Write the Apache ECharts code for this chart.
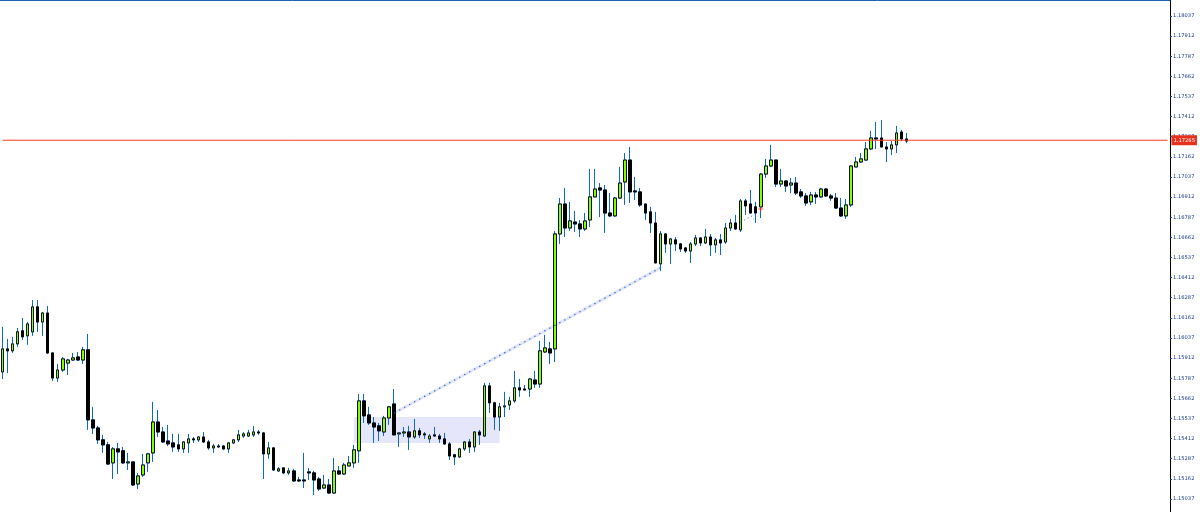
<!DOCTYPE html>
<html>
<head>
<meta charset="utf-8">
<script src="https://cdn.jsdelivr.net/npm/echarts@6/dist/echarts.min.js"></script>
<style>html,body{margin:0;padding:0;background:#fff}#c{width:1200px;height:512px}</style>
</head>
<body>
<div id="c"></div>
<script>
const opens = [1.15826,1.15969,1.15957,1.16000,1.16081,1.16050,1.16075,1.16230,1.16136,1.16192,
1.15944,1.15788,1.15838,1.15881,1.15900,1.15919,1.15900,1.15963,1.15528,1.15478,
1.15404,1.15373,1.15261,1.15348,1.15336,1.15261,1.15267,1.15130,1.15186,1.15261,
1.15323,1.15515,1.15453,1.15397,1.15385,1.15373,1.15348,1.15385,1.15410,1.15404,
1.15422,1.15391,1.15354,1.15366,1.15366,1.15348,1.15385,1.15404,1.15428,1.15428,
1.15435,1.15453,1.15447,1.15317,1.15354,1.15211,1.15230,1.15199,1.15211,1.15155,
1.15155,1.15205,1.15199,1.15161,1.15105,1.15124,1.15074,1.15211,1.15192,1.15242,
1.15261,1.15336,1.15646,1.15559,1.15509,1.15491,1.15453,1.15540,1.15627,1.15441,
1.15447,1.15453,1.15422,1.15460,1.15441,1.15410,1.15435,1.15428,1.15410,1.15379,
1.15311,1.15298,1.15348,1.15391,1.15360,1.15453,1.15428,1.15739,1.15634,1.15546,
1.15609,1.15621,1.15646,1.15727,1.15720,1.15720,1.15776,1.15751,1.15950,1.15969,
1.15969,1.16683,1.16869,1.16720,1.16757,1.16745,1.16714,1.16770,1.16913,1.16969,
1.16956,1.16813,1.16795,1.16906,1.17006,1.17142,1.16950,1.16944,1.16869,1.16820,
1.16751,1.16497,1.16683,1.16621,1.16646,1.16621,1.16596,1.16577,1.16621,1.16658,
1.16627,1.16664,1.16615,1.16646,1.16633,1.16720,1.16751,1.16708,1.16888,1.16869,
1.16851,1.16851,1.17055,1.17105,1.17142,1.16993,1.17012,1.16987,1.16999,1.16944,
1.16919,1.16882,1.16925,1.16913,1.16962,1.16919,1.16906,1.16844,1.16795,1.16863,
1.17099,1.17130,1.17142,1.17211,1.17279,1.17279,1.17223,1.17211,1.17236,1.17316,
1.17273];
const closes = [1.15969,1.15957,1.16000,1.16075,1.16044,1.16124,1.16230,1.16136,1.16192,1.15944,
1.15788,1.15838,1.15907,1.15900,1.15913,1.15900,1.15963,1.15528,1.15478,1.15404,
1.15373,1.15254,1.15348,1.15329,1.15261,1.15267,1.15124,1.15180,1.15248,1.15317,
1.15515,1.15453,1.15391,1.15379,1.15360,1.15348,1.15391,1.15410,1.15404,1.15422,
1.15391,1.15354,1.15366,1.15360,1.15348,1.15385,1.15404,1.15435,1.15441,1.15447,
1.15453,1.15447,1.15317,1.15354,1.15217,1.15224,1.15199,1.15211,1.15149,1.15149,
1.15149,1.15199,1.15155,1.15099,1.15124,1.15074,1.15211,1.15192,1.15248,1.15261,
1.15342,1.15646,1.15553,1.15509,1.15484,1.15460,1.15540,1.15609,1.15435,1.15447,
1.15453,1.15422,1.15460,1.15435,1.15435,1.15428,1.15428,1.15410,1.15379,1.15304,
1.15298,1.15348,1.15391,1.15360,1.15453,1.15435,1.15739,1.15634,1.15546,1.15609,
1.15615,1.15646,1.15727,1.15714,1.15714,1.15782,1.15751,1.15957,1.15975,1.15944,
1.16683,1.16869,1.16720,1.16764,1.16745,1.16714,1.16764,1.16913,1.16962,1.16956,
1.16813,1.16795,1.16906,1.16999,1.17142,1.16944,1.16944,1.16863,1.16813,1.16751,
1.16503,1.16683,1.16621,1.16652,1.16621,1.16590,1.16577,1.16621,1.16658,1.16627,
1.16664,1.16615,1.16646,1.16627,1.16720,1.16751,1.16714,1.16888,1.16857,1.16813,
1.16813,1.17055,1.17105,1.17142,1.16993,1.17012,1.16981,1.16999,1.16937,1.16919,
1.16875,1.16925,1.16913,1.16962,1.16919,1.16906,1.16844,1.16795,1.16863,1.17105,
1.17130,1.17149,1.17211,1.17279,1.17273,1.17223,1.17211,1.17236,1.17310,1.17273,
1.17260];
const lows = [1.15782,1.15819,1.15944,1.15982,1.16025,1.15994,1.16050,1.16075,1.16050,1.15938,
1.15770,1.15764,1.15826,1.15807,1.15894,1.15894,1.15875,1.15466,1.15441,1.15379,
1.15323,1.15248,1.15161,1.15192,1.15254,1.15217,1.15118,1.15099,1.15174,1.15205,
1.15267,1.15422,1.15385,1.15366,1.15329,1.15329,1.15323,1.15323,1.15385,1.15391,
1.15385,1.15342,1.15323,1.15354,1.15342,1.15323,1.15379,1.15391,1.15416,1.15422,
1.15422,1.15435,1.15161,1.15286,1.15211,1.15205,1.15192,1.15186,1.15143,1.15143,
1.15105,1.15155,1.15062,1.15087,1.15099,1.15068,1.15068,1.15186,1.15186,1.15242,
1.15230,1.15261,1.15509,1.15497,1.15385,1.15397,1.15428,1.15497,1.15435,1.15360,
1.15422,1.15342,1.15410,1.15416,1.15410,1.15385,1.15422,1.15385,1.15373,1.15279,
1.15248,1.15292,1.15336,1.15323,1.15329,1.15373,1.15422,1.15571,1.15466,1.15460,
1.15546,1.15590,1.15634,1.15671,1.15714,1.15671,1.15727,1.15727,1.15944,1.15875,
1.15888,1.16621,1.16664,1.16701,1.16695,1.16664,1.16701,1.16726,1.16913,1.16788,
1.16689,1.16788,1.16788,1.16900,1.16863,1.16875,1.16894,1.16851,1.16770,1.16689,
1.16503,1.16453,1.16565,1.16497,1.16577,1.16571,1.16565,1.16503,1.16608,1.16608,
1.16621,1.16546,1.16565,1.16552,1.16621,1.16701,1.16708,1.16695,1.16801,1.16813,
1.16751,1.16782,1.17031,1.17099,1.16975,1.16975,1.16944,1.16937,1.16925,1.16906,
1.16857,1.16863,1.16869,1.16906,1.16913,1.16888,1.16838,1.16788,1.16776,1.16851,
1.17099,1.17124,1.17136,1.17205,1.17211,1.17223,1.17130,1.17173,1.17186,1.17260,
1.17248];
const highs = [1.16106,1.16031,1.16044,1.16099,1.16161,1.16136,1.16273,1.16273,1.16199,1.16236,
1.15944,1.15875,1.15919,1.15907,1.15944,1.15950,1.15982,1.16062,1.15609,1.15491,
1.15435,1.15391,1.15360,1.15385,1.15360,1.15323,1.15267,1.15199,1.15317,1.15323,
1.15640,1.15590,1.15484,1.15497,1.15441,1.15441,1.15397,1.15441,1.15422,1.15428,
1.15453,1.15404,1.15379,1.15379,1.15373,1.15391,1.15410,1.15466,1.15453,1.15466,
1.15491,1.15466,1.15453,1.15391,1.15360,1.15236,1.15230,1.15230,1.15224,1.15174,
1.15323,1.15230,1.15211,1.15174,1.15186,1.15161,1.15292,1.15242,1.15261,1.15304,
1.15373,1.15689,1.15689,1.15609,1.15546,1.15509,1.15553,1.15615,1.15720,1.15447,
1.15484,1.15491,1.15534,1.15478,1.15453,1.15441,1.15484,1.15441,1.15447,1.15391,
1.15317,1.15354,1.15397,1.15410,1.15459,1.15466,1.15758,1.15758,1.15640,1.15634,
1.15702,1.15671,1.15832,1.15782,1.15745,1.15788,1.15832,1.16019,1.16056,1.16012,
1.16701,1.16906,1.16969,1.16882,1.16826,1.16770,1.16813,1.17087,1.17087,1.16999,
1.16987,1.16937,1.16913,1.17099,1.17186,1.17223,1.17037,1.16969,1.16869,1.16851,
1.16820,1.16701,1.16683,1.16658,1.16664,1.16627,1.16602,1.16633,1.16677,1.16664,
1.16714,1.16683,1.16658,1.16683,1.16751,1.16776,1.16801,1.16900,1.16900,1.16956,
1.16882,1.17061,1.17149,1.17236,1.17142,1.17087,1.17012,1.17031,1.17037,1.16962,
1.16937,1.16944,1.16944,1.16969,1.16969,1.16931,1.16937,1.16906,1.16900,1.17111,
1.17161,1.17186,1.17254,1.17323,1.17378,1.17391,1.17254,1.17260,1.17354,1.17329,
1.17310];
const priceTicks = [1.15037,1.15162,1.15287,1.15412,1.15537,1.15662,1.15787,1.15912,1.16037,
1.16162,1.16287,1.16412,1.16537,1.16662,1.16787,1.16912,1.17037,1.17162,1.17287,1.17412,
1.17537,1.17662,1.17787,1.17912,1.18037];
const bidPrice = 1.17265;
const trendLine = [[78, 1.15571], [131, 1.16472]];
const shortLine = [[147, 1.16757], [150, 1.16807]];
const crossMark = [[151, 1.16838]];
const boxArea = {x0: 70, x1: 99, top: 1.15546, bottom: 1.15385};
const slotCount = 233;
const categories = Array.from({length: slotCount}, (_, i) => String(i));

const fullData = opens.map((o, i) => [o, closes[i], lows[i], highs[i]]);
const bodyData = opens.map((o, i) => [o, closes[i], Math.min(o, closes[i]), Math.max(o, closes[i])]);
const bidLine = [[0, bidPrice], [slotCount - 1, bidPrice]];

const WICK = '#1166cc';
const chart = echarts.init(document.getElementById('c'), null, {renderer: 'canvas'});
chart.setOption({
  animation: false,
  backgroundColor: '#ffffff',
  grid: {left: -2, right: 30, top: 0, bottom: 0, containLabel: false},
  xAxis: {
    type: 'category', data: categories, position: 'top', boundaryGap: true,
    axisLine: {show: true, onZero: false, lineStyle: {color: '#1f5fb0', width: 1}},
    axisTick: {show: false}, axisLabel: {show: false}, splitLine: {show: false}
  },
  yAxis: {
    type: 'value', position: 'right', min: 1.14956, max: 1.18136, scale: true,
    axisLine: {show: true, lineStyle: {color: '#000000', width: 1}},
    axisTick: {show: true, length: 2, customValues: priceTicks, lineStyle: {color: '#1a3a8a'}},
    axisLabel: {show: true, customValues: priceTicks, margin: 3, color: '#1a3a8a',
      fontFamily: 'DejaVu Sans', fontSize: 5.2, formatter: v => v.toFixed(5)},
    splitLine: {show: false}
  },
  series: [
    {
      type: 'line', data: trendLine, symbol: 'none', silent: true, z: 1,
      lineStyle: {color: '#e4e4f8', width: 3},
      markArea: {silent: true, itemStyle: {color: '#e6e6fa'},
        data: [[{xAxis: boxArea.x0, yAxis: boxArea.top}, {xAxis: boxArea.x1, yAxis: boxArea.bottom}]]}
    },
    {
      type: 'candlestick', data: fullData, barWidth: 3, silent: true, z: 2,
      itemStyle: {color: WICK, color0: WICK, borderColor: WICK, borderColor0: WICK, borderColorDoji: WICK, borderWidth: 1}
    },
    {
      type: 'candlestick', data: bodyData, barWidth: 3, silent: true, z: 3,
      itemStyle: {color: '#7fff00', color0: '#000000', borderColor: '#101010', borderColor0: '#000000', borderColorDoji: '#000000', borderWidth: 1}
    },
    {
      type: 'line', data: trendLine, symbol: 'none', silent: true, z: 4,
      lineStyle: {color: '#0f5fd0', width: 1.2, type: [1.2, 4.5]}
    },
    {
      type: 'line', data: shortLine, symbol: 'none', silent: true, z: 4,
      lineStyle: {color: '#0f5fd0', width: 1, type: [1, 3]}
    },
    {
      type: 'scatter', data: crossMark, silent: true, z: 5,
      symbol: 'path://M2,0h1v2h2v1h-2v2h-1v-2h-2v-1h2z', symbolSize: 5,
      itemStyle: {color: '#e8301c'}
    },
    {
      type: 'line', data: bidLine, symbol: 'none', silent: true, z: 6, clip: false,
      lineStyle: {color: '#ff3b1f', width: 1, type: 'solid'},
      endLabel: {show: true, distance: 4, formatter: () => bidPrice.toFixed(5),
        backgroundColor: '#e8301c', color: '#ffffff', fontFamily: 'DejaVu Sans', fontSize: 5.2, padding: [2.5, 2]}
    }
  ]
});
</script>
</body>
</html>
